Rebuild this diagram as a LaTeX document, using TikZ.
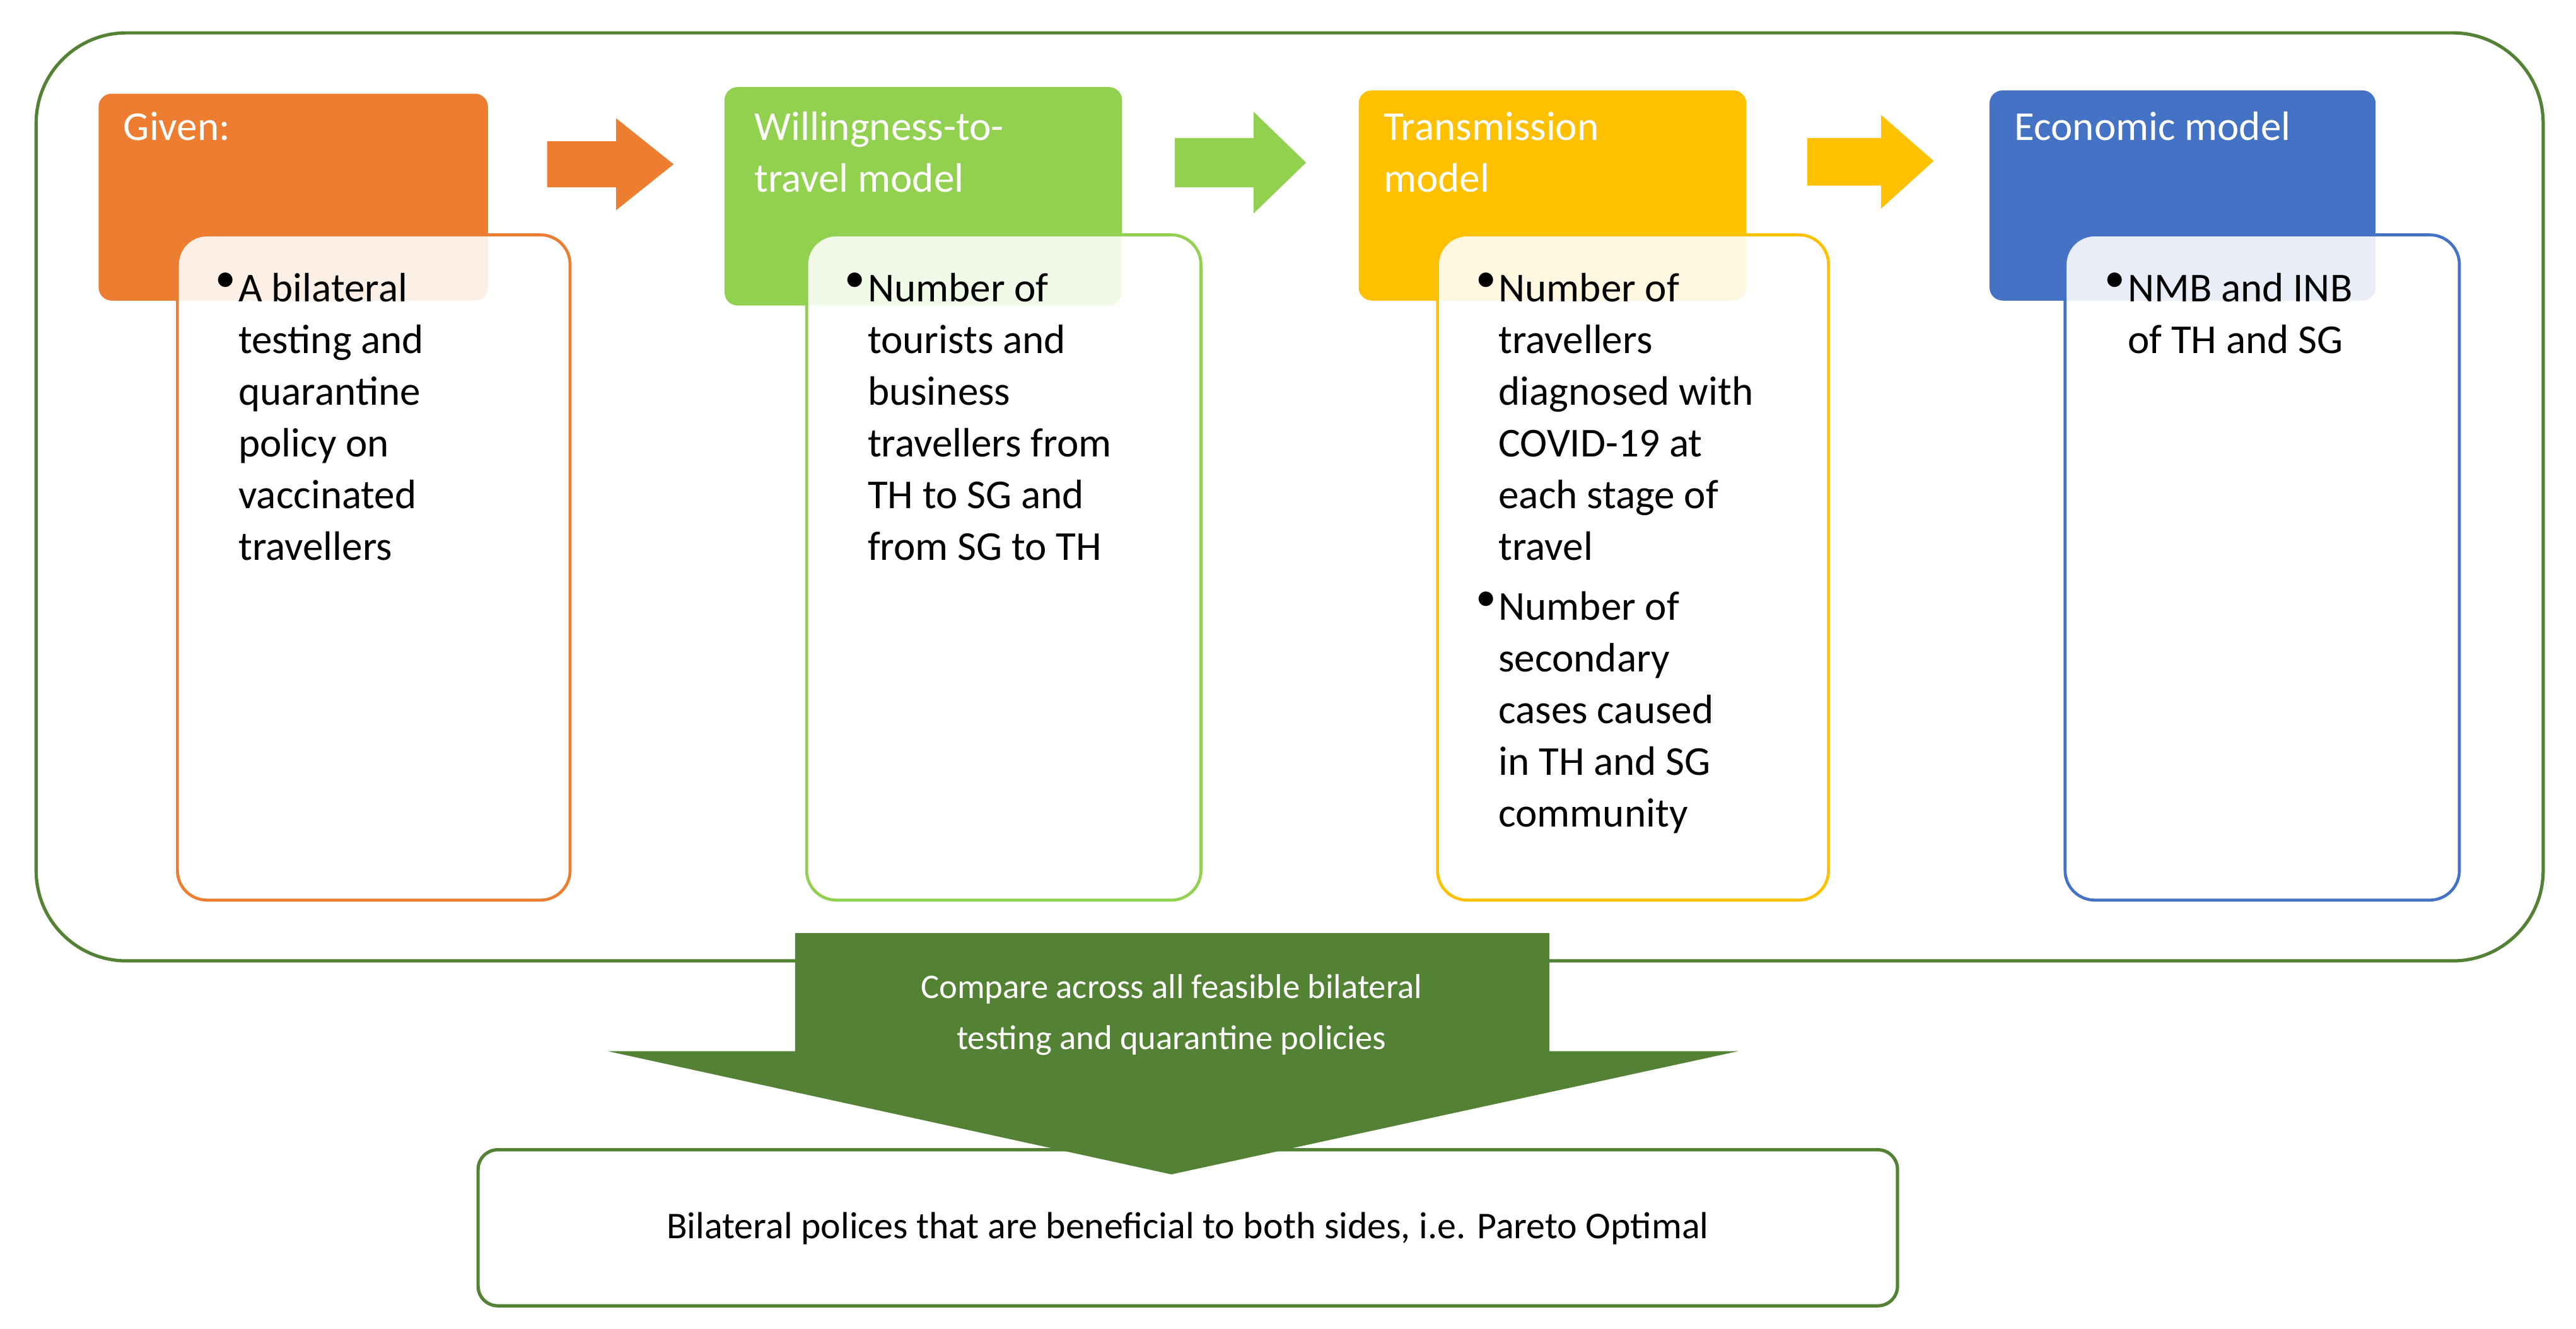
\documentclass[tikz,border=0pt]{standalone}
\usepackage{fontspec}
\setmainfont{Carlito}
\usetikzlibrary{shapes.arrows}
\definecolor{cOr}{RGB}{237,125,49}
\definecolor{cGr}{RGB}{146,208,80}
\definecolor{cGo}{RGB}{255,192,0}
\definecolor{cBl}{RGB}{68,114,196}
\definecolor{cDk}{RGB}{84,130,53}
\begin{document}
\begin{tikzpicture}[x=1pt,y=-1pt,
  title/.style={draw=none,rounded corners=8pt,minimum width=#1},
  ttxt/.style={anchor=north west,inner sep=0pt,text=white,align=left,font=\fontsize{25}{31.5}\selectfont},
  btxt/.style={anchor=north west,inner sep=0pt,align=left,font=\fontsize{25}{31.5}\selectfont},
  wbox/.style={fill=white,fill opacity=0.88,draw opacity=1,line width=1.8pt,rounded corners=18pt},
  rarr/.style={single arrow,draw=none,minimum height=77pt,minimum width=58pt,single arrow head extend=0pt,inner sep=0pt,shape border uses incircle,single arrow tip angle=90}]
\useasboundingbox (0,0) rectangle (1568,809);
\draw[cDk,line width=2pt,rounded corners=55pt] (22,20) rectangle (1548,585);
% titles
\fill[cOr,rounded corners=8pt] (60,57) rectangle (297,183);
\fill[cGr,rounded corners=8pt] (441,53) rectangle (683,186);
\fill[cGo,rounded corners=8pt] (827,55) rectangle (1063,183);
\fill[cBl,rounded corners=8pt] (1211,55) rectangle (1446,183);
\node[ttxt] (t1) at (75,68) {Given:};
\node[ttxt] (t2) at (459,68) {Willingness-to-\\travel model};
\node[ttxt] (t3) at (842,68) {Transmission\\model};
\node[ttxt] (t4) at (1226,68) {Economic model};
% white boxes
\draw[wbox,draw=cOr] (108,143) rectangle (347,548);
\draw[wbox,draw=cGr] (491,143) rectangle (731,548);
\draw[wbox,draw=cGo] (875,143) rectangle (1113,548);
\draw[wbox,draw=cBl] (1257,143) rectangle (1497,548);
% arrows
\fill[cOr] (333,86)--(375,86)--(375,72)--(410,100)--(375,128)--(375,114)--(333,114)--cycle;
\fill[cGr] (715,84)--(763,84)--(763,68)--(795,99)--(763,130)--(763,114)--(715,114)--cycle;
\fill[cGo] (1100,84)--(1145,84)--(1145,70)--(1177,98)--(1145,127)--(1145,113)--(1100,113)--cycle;
% bullets
\node[btxt] (b1) at (131,166) {•};
\node[btxt] (x1) at (145,166) {A bilateral\\testing and\\quarantine\\policy on\\vaccinated\\travellers};
\node[btxt] (b2) at (514,166) {•};
\node[btxt] (x2) at (528,166) {Number of\\tourists and\\business\\travellers from\\TH to SG and\\from SG to TH};
\node[btxt] (b3) at (898,166) {•};
\node[btxt] (x3) at (912,166) {Number of\\travellers\\diagnosed with\\COVID-19 at\\each stage of\\travel};
\node[btxt] (b4) at (898,360) {•};
\node[btxt] (x4) at (912,360) {Number of\\secondary\\cases caused\\in TH and SG\\community};
\node[btxt] (b5) at (1281,166) {•};
\node[btxt] (x5) at (1295,166) {NMB and INB\\of TH and SG};
% bottom
\draw[cDk,line width=2pt,rounded corners=12pt,fill=white] (291,700) rectangle (1155,795);
\node[font=\fontsize{23}{28}\selectfont] (bt) at (723,748) {Bilateral polices that are beneficial to both sides, i.e. Pareto Optimal};
\fill[cDk] (484,568)--(943,568)--(943,640)--(1058,640)--(713,715)--(370,640)--(484,640)--cycle;
\node[text=white,align=center,font=\fontsize{21}{31}\selectfont] (cmp) at (713,618) {Compare across all feasible bilateral\\testing and quarantine policies};
\end{tikzpicture}
\end{document}
